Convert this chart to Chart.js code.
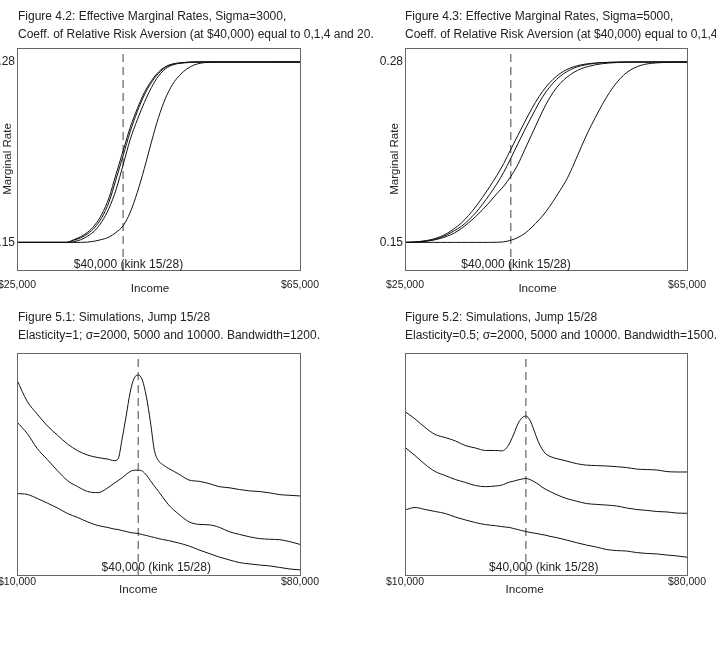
<!DOCTYPE html>
<html>
<head>
<meta charset="utf-8">
<script src="https://cdn.jsdelivr.net/npm/chart.js@4.4.1/dist/chart.umd.min.js"></script>
<style>
html,body{margin:0;padding:0;background:#fff;width:716px;height:663px;overflow:hidden}
canvas{position:absolute}
</style>
</head>
<body>
<canvas id="c1" width="380" height="300" style="left:0;top:0"></canvas>
<canvas id="c2" width="336" height="300" style="left:380px;top:0"></canvas>
<canvas id="c3" width="380" height="320" style="left:0;top:300px"></canvas>
<canvas id="c4" width="336" height="320" style="left:380px;top:300px"></canvas>
<script>
// ---------- DATA ----------
const kinkIncome = 40000;

// Figures 4.2 / 4.3: income grid and marginal rates
const incomeTop = [25000,26000,27000,28000,29000,30000,31000,32000,33000,34000,35000,36000,37000,38000,39000,40000,41000,42000,43000,44000,45000,46000,47000,48000,49000,50000,51000,52000,53000,54000,55000,56000,57000,58000,59000,60000,61000,62000,63000,64000,65000];
const topXTicks = [25000, 65000];
const topYTicks = [0.15, 0.28];

const fig42_rra0 = [0.15,0.15,0.15,0.15,0.15,0.15,0.15,0.15,
  0.1519,0.1541,0.1574,0.1625,0.1704,0.1821,0.1992,0.2160,0.2328,0.2464,0.2580,0.2665,0.2728,0.2767,0.2786,0.2793,0.2798,
  0.28,0.28,0.28,0.28,0.28,0.28,0.28,0.28,0.28,0.28,0.28,0.28,0.28,0.28,0.28,0.28];
const fig42_rra1 = [0.15,0.15,0.15,0.15,0.15,0.15,0.15,0.15,
  0.1515,0.1533,0.1563,0.1608,0.1680,0.1790,0.1955,0.2125,0.2298,0.2442,0.2562,0.2652,0.2718,0.2762,0.2784,0.2793,0.2798,
  0.28,0.28,0.28,0.28,0.28,0.28,0.28,0.28,0.28,0.28,0.28,0.28,0.28,0.28,0.28,0.28];
const fig42_rra4 = [0.15,0.15,0.15,0.15,0.15,0.15,0.15,0.15,
  0.1505,0.1519,0.1546,0.1585,0.1650,0.1745,0.1880,0.2059,0.2241,0.2383,0.2508,0.2616,0.2699,0.2752,0.2779,0.2791,0.2795,0.2799,
  0.28,0.28,0.28,0.28,0.28,0.28,0.28,0.28,0.28,0.28,0.28,0.28,0.28,0.28,0.28];
const fig42_rra20 = [0.15,0.15,0.15,0.15,0.15,0.15,0.15,0.15,0.15,0.15,
  0.1502,0.1509,0.1521,0.1538,0.1572,0.1620,0.1716,0.1860,0.2033,0.2224,0.2400,0.2540,0.2640,0.2705,0.2750,0.2778,0.2792,0.2798,
  0.28,0.28,0.28,0.28,0.28,0.28,0.28,0.28,0.28,0.28,0.28,0.28,0.28];

const fig43_rra0 = [0.1500,0.1502,0.1506,0.1513,0.1524,0.1541,0.1566,0.1600,0.1640,0.1693,0.1755,0.1825,0.1900,0.1980,0.2068,0.2170,0.2270,0.2370,0.2465,0.2550,0.2620,0.2675,0.2717,0.2747,0.2767,0.2780,0.2788,0.2793,0.2796,0.2798,0.2799,
  0.28,0.28,0.28,0.28,0.28,0.28,0.28,0.28,0.28,0.28];
const fig43_rra1 = [0.1500,0.1501,0.1504,0.1510,0.1519,0.1534,0.1556,0.1585,0.1615,0.1660,0.1712,0.1775,0.1845,0.1920,0.2005,0.2105,0.2210,0.2312,0.2410,0.2505,0.2585,0.2648,0.2697,0.2732,0.2757,0.2773,0.2784,0.2791,0.2795,0.2797,0.2799,
  0.28,0.28,0.28,0.28,0.28,0.28,0.28,0.28,0.28,0.28];
const fig43_rra4 = [0.1500,0.1501,0.1503,0.1508,0.1516,0.1528,0.1545,0.1568,0.1600,0.1640,0.1685,0.1735,0.1790,0.1850,0.1905,0.1975,0.2060,0.2170,0.2280,0.2390,0.2495,0.2580,0.2645,0.2692,0.2727,0.2752,0.2768,0.2780,0.2788,0.2793,0.2796,0.2798,0.2799,
  0.28,0.28,0.28,0.28,0.28,0.28,0.28,0.28];
const fig43_rra20 = [0.15,0.15,0.15,0.15,0.15,0.15,0.15,0.15,0.15,0.15,0.15,0.15,0.15,
  0.1501,0.1504,0.1515,0.1535,0.1565,0.1610,0.1662,0.1722,0.1795,0.1875,0.1960,0.2070,0.2188,0.2300,0.2400,0.2495,0.2580,0.2650,0.2705,0.2743,0.2768,0.2783,0.2791,0.2795,0.2797,0.2799,
  0.28,0.28];

// Figures 5.1 / 5.2: simulated income densities (arbitrary units, unlabelled axis)
const incomeBottom = [10000,12500,15000,17500,20000,22500,25000,27500,30000,32500,34000,35000,36000,37000,38000,39000,40000,41000,42000,43000,44000,45000,46000,47500,50000,52500,55000,57500,60000,62500,65000,67500,70000,72500,75000,77500,80000];
const bottomXTicks = [10000, 80000];

const fig51_sigma2000 = [87.8,78.3,72.5,67.2,63.0,59.0,56.0,54.0,52.9,52.2,51.5,52.3,61.3,71.6,82.4,88.7,90.1,87.8,80.3,69.0,56.0,51.5,49.8,48.0,45.5,42.8,42.2,41.2,39.8,39.3,38.5,37.9,37.6,37.0,36.2,35.9,35.6];
const fig51_sigma5000 = [68.9,63.8,57.0,52.0,47.0,42.5,39.8,37.6,37.1,39.3,41.3,42.5,43.8,45.3,46.6,47.2,47.2,46.8,45.0,42.5,40.0,37.6,35.2,31.6,27.4,24.0,22.8,22.6,21.5,19.5,18.3,17.2,16.4,16.1,15.9,15.0,13.8];
const fig51_sigma10000 = [36.7,36.3,34.5,32.4,30.2,27.7,25.9,23.9,22.3,21.4,20.7,20.5,20.0,19.6,19.1,18.9,18.7,18.2,17.8,17.3,16.9,16.4,16.0,15.5,14.4,13.1,11.3,9.7,8.1,6.8,5.6,5.0,4.5,4.1,3.4,2.7,2.3];

const fig52_sigma2000 = [73.6,70.3,66.4,63.3,61.9,60.4,58.3,57.2,56.1,56.1,55.9,56.8,59.5,63.5,68.0,70.7,71.6,69.8,65.3,60.4,56.8,54.5,53.4,52.5,51.4,50.2,49.5,49.3,49.1,48.8,48.4,47.7,47.5,47.3,46.6,46.4,46.4];
const fig52_sigma5000 = [57.5,53.8,49.8,46.6,44.8,43.0,41.7,40.3,39.8,40.1,40.5,41.2,41.9,42.3,42.8,43.2,43.5,43.0,42.1,41.0,39.6,38.5,37.6,36.3,34.5,33.3,32.2,31.8,31.5,31.1,30.2,29.5,29.1,28.6,28.4,27.9,27.8];
const fig52_sigma10000 = [29.3,30.4,29.5,28.6,27.7,26.1,24.8,23.6,22.7,22.2,21.8,21.6,21.4,20.9,20.5,20.0,19.6,19.2,18.9,18.6,18.2,17.9,17.4,16.9,15.8,14.6,13.5,12.6,11.5,11.0,10.8,10.1,9.7,9.5,9.0,8.6,8.0];

// ---------- DRAWING ----------
const FONT = "'Liberation Sans', Arial, Helvetica, sans-serif";
Chart.defaults.font.family = FONT;
Chart.defaults.color = '#222';

function fmtMoney(v) { return '$' + String(Math.round(v)).replace(/\B(?=(\d{3})+(?!\d))/g, ','); }

const annot = {
  id: 'annot',
  afterDraw(chart, args, o) {
    const {ctx, chartArea: a, scales: {x}} = chart;
    ctx.save();
    ctx.strokeStyle = '#666';
    ctx.lineWidth = 1;
    ctx.strokeRect(Math.round(a.left) + 0.5, Math.round(a.top) + 0.5,
                   Math.round(a.right - a.left), Math.round(a.bottom - a.top));
    ctx.fillStyle = '#222';
    ctx.textBaseline = 'alphabetic';
    ctx.textAlign = 'left';
    ctx.font = '12px ' + FONT;
    o.title.forEach((line, i) => ctx.fillText(line, a.left + o.titleDx, o.titleY[i]));
    ctx.textAlign = 'center';
    ctx.fillText(o.kinkText, x.getPixelForValue(o.kinkTextX), a.bottom + o.kinkTextDy);
    ctx.font = '11.7px ' + FONT;
    ctx.fillText('Income', x.getPixelForValue(o.xTitleX), a.bottom + o.xTitleDy);
    if (o.yTitle) {
      ctx.font = '11.5px ' + FONT;
      ctx.translate(a.left - o.yTitleDx, (a.top + a.bottom) / 2);
      ctx.rotate(-Math.PI / 2);
      ctx.textBaseline = 'middle';
      ctx.fillText(o.yTitle, 0, 0);
    }
    ctx.restore();
  }
};

function series(xs, ys) { return xs.map((x, i) => ({x: x, y: ys[i]})); }

function makePanel(id, s) {
  const canvas = document.getElementById(id);
  const datasets = s.lines.map(ys => ({
    data: series(s.xs, ys),
    borderColor: '#111', borderWidth: 1, pointRadius: 0,
    cubicInterpolationMode: 'monotone', fill: false
  }));
  datasets.push({
    data: [{x: kinkIncome, y: s.yMin}, {x: kinkIncome, y: s.yMax}],
    borderColor: '#808080', borderWidth: 1.5, borderDash: [8, 5], pointRadius: 0, fill: false
  });
  const box = s.box; // plot frame inside the canvas: left, top, right, bottom
  return new Chart(canvas, {
    type: 'line',
    data: {datasets: datasets},
    options: {
      responsive: false, animation: false, events: [],
      layout: {autoPadding: false,
               padding: {left: 0, top: box.top, right: canvas.width - box.right, bottom: 0}},
      plugins: {
        legend: {display: false}, tooltip: {enabled: false}, title: {display: false},
        annot: s.annot
      },
      scales: {
        x: {
          type: 'linear', min: s.xMin, max: s.xMax,
          grid: {display: false, drawTicks: false}, border: {display: false},
          afterBuildTicks: sc => { sc.ticks = s.xTicks.map(v => ({value: v})); },
          afterFit: sc => {
            sc.height = canvas.height - box.bottom;
            sc.paddingLeft = 0; sc.paddingRight = 0; sc.paddingTop = 0; sc.paddingBottom = 0;
          },
          ticks: {autoSkip: false, maxRotation: 0, padding: s.xTickPad, color: '#222',
                  font: {size: 10.5}, callback: v => fmtMoney(v)}
        },
        y: {
          type: 'linear', min: s.yMin, max: s.yMax,
          grid: {display: false, drawTicks: false}, border: {display: false},
          afterBuildTicks: sc => { sc.ticks = s.yTicks.map(v => ({value: v})); },
          afterFit: sc => {
            sc.width = box.left;
            sc.paddingLeft = 0; sc.paddingRight = 0; sc.paddingTop = 0; sc.paddingBottom = 0;
          },
          ticks: {display: s.yTicks.length > 0, autoSkip: false, padding: 2, color: '#222',
                  font: {size: 12}, callback: v => Number(v).toFixed(2)}
        }
      }
    },
    plugins: [annot]
  });
}

const kinkText = '$40,000 (kink 15/28)';

makePanel('c1', {
  xs: incomeTop, lines: [fig42_rra0, fig42_rra1, fig42_rra4, fig42_rra20],
  xMin: 25000, xMax: 65000, yMin: 0.1301, yMax: 0.2901,
  xTicks: topXTicks, yTicks: topYTicks, xTickPad: 9,
  box: {left: 17, top: 48, right: 300, bottom: 270},
  annot: {title: ['Figure 4.2: Effective Marginal Rates, Sigma=3000,',
                  'Coeff. of Relative Risk Aversion (at $40,000) equal to 0,1,4 and 20.'],
          titleDx: 1, titleY: [20, 38], kinkText: kinkText, kinkTextX: 40750, kinkTextDy: -2.5,
          xTitleX: 43800, xTitleDy: 22.3, yTitle: 'Marginal Rate', yTitleDx: 9.5}
});

makePanel('c2', {
  xs: incomeTop, lines: [fig43_rra0, fig43_rra1, fig43_rra4, fig43_rra20],
  xMin: 25000, xMax: 65000, yMin: 0.1301, yMax: 0.2901,
  xTicks: topXTicks, yTicks: topYTicks, xTickPad: 9,
  box: {left: 25, top: 48, right: 307, bottom: 270},
  annot: {title: ['Figure 4.3: Effective Marginal Rates, Sigma=5000,',
                  'Coeff. of Relative Risk Aversion (at $40,000) equal to 0,1,4 and 20.'],
          titleDx: 0, titleY: [20, 38], kinkText: kinkText, kinkTextX: 40750, kinkTextDy: -2.5,
          xTitleX: 43800, xTitleDy: 22.3, yTitle: 'Marginal Rate', yTitleDx: 10}
});

makePanel('c3', {
  xs: incomeBottom, lines: [fig51_sigma2000, fig51_sigma5000, fig51_sigma10000],
  xMin: 10000, xMax: 80000, yMin: 0, yMax: 100,
  xTicks: bottomXTicks, yTicks: [], xTickPad: 1,
  box: {left: 17, top: 53, right: 300, bottom: 275},
  annot: {title: ['Figure 5.1: Simulations, Jump 15/28',
                  'Elasticity=1; \u03c3=2000, 5000 and 10000. Bandwidth=1200.'],
          titleDx: 1, titleY: [20.5, 38.5], kinkText: kinkText, kinkTextX: 44440, kinkTextDy: -3.8,
          xTitleX: 40000, xTitleDy: 18, yTitle: null}
});

makePanel('c4', {
  xs: incomeBottom, lines: [fig52_sigma2000, fig52_sigma5000, fig52_sigma10000],
  xMin: 10000, xMax: 80000, yMin: 0, yMax: 100,
  xTicks: bottomXTicks, yTicks: [], xTickPad: 1,
  box: {left: 25, top: 53, right: 307, bottom: 275},
  annot: {title: ['Figure 5.2: Simulations, Jump 15/28',
                  'Elasticity=0.5; \u03c3=2000, 5000 and 10000. Bandwidth=1500.'],
          titleDx: 0, titleY: [20.5, 38.5], kinkText: kinkText, kinkTextX: 44440, kinkTextDy: -3.8,
          xTitleX: 39700, xTitleDy: 18, yTitle: null}
});
</script>
</body>
</html>
